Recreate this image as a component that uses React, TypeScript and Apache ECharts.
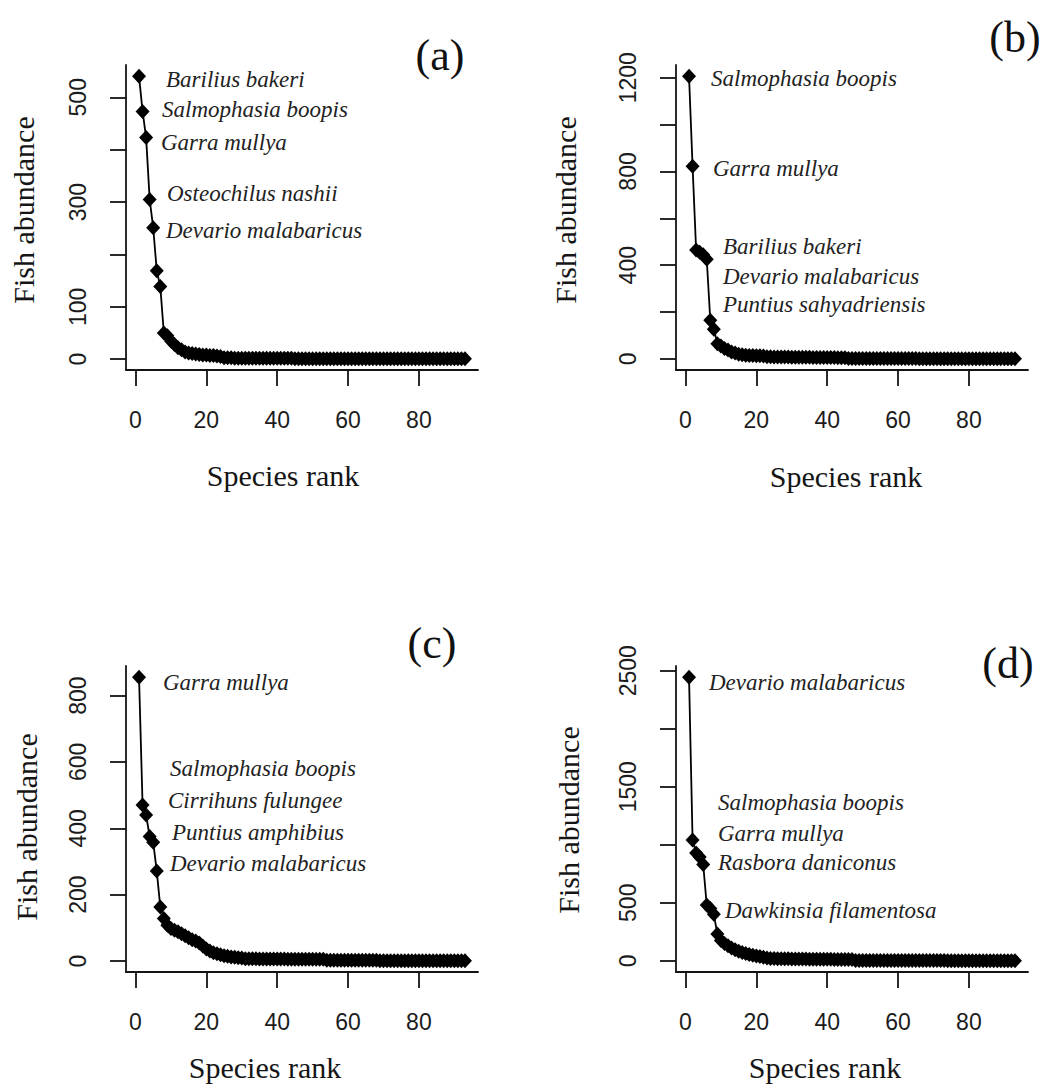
import React, { useEffect, useRef } from "react";
import * as echarts from "echarts";

// Abundance of each species, ordered by rank (rank 1 = most abundant), one array per site.
const abundanceA = [
  540, 473, 423, 305, 251, 169, 139, 50, 45, 35,
  28, 22, 18, 14, 12, 11, 10, 9, 8, 8,
  7, 7, 6, 5, 3, 3, 3, 2, 2, 2,
  2, 2, 2, 2, 2, 2, 2, 2, 2, 2,
  2, 2, 2, 2, 1, 1, 1, 1, 1, 1,
  1, 1, 1, 1, 1, 1, 1, 1, 1, 1,
  1, 1, 1, 1, 1, 1, 1, 1, 1, 1,
  1, 1, 1, 1, 1, 1, 1, 1, 1, 1,
  1, 1, 1, 1, 1, 1, 1, 1, 1, 1,
  1, 1, 1,
];

const abundanceB = [
  1206, 822, 465, 455, 445, 425, 165, 127, 65, 55,
  45, 38, 30, 25, 20, 18, 16, 15, 15, 14,
  14, 13, 9, 9, 8, 8, 8, 8, 8, 7,
  7, 7, 7, 7, 7, 6, 6, 6, 6, 6,
  6, 6, 5, 5, 5, 2, 2, 2, 2, 2,
  2, 2, 2, 2, 2, 2, 2, 2, 2, 2,
  2, 2, 2, 2, 2, 1, 1, 1, 1, 1,
  1, 1, 1, 1, 1, 1, 1, 1, 1, 1,
  1, 1, 1, 1, 1, 1, 1, 1, 1, 1,
  1, 1, 1,
];

const abundanceC = [
  855, 470, 440, 375, 358, 271, 163, 128, 108, 98,
  93, 88, 82, 76, 70, 64, 60, 54, 45, 36,
  30, 25, 22, 19, 16, 14, 12, 11, 10, 9,
  7, 7, 7, 7, 6, 6, 6, 6, 6, 6,
  6, 6, 5, 5, 5, 5, 5, 5, 5, 5,
  5, 5, 5, 2, 2, 2, 2, 2, 2, 2,
  2, 2, 2, 2, 2, 2, 2, 2, 1, 1,
  1, 1, 1, 1, 1, 1, 1, 1, 1, 1,
  1, 1, 1, 1, 1, 1, 1, 1, 1, 1,
  1, 1, 1,
];

const abundanceD = [
  2443, 1040, 930, 895, 830, 480, 450, 400, 230, 175,
  150, 130, 110, 95, 82, 72, 62, 55, 48, 42,
  36, 30, 25, 20, 19, 18, 18, 17, 17, 16,
  16, 15, 15, 15, 14, 14, 14, 13, 13, 13,
  13, 12, 12, 12, 12, 12, 12, 3, 3, 3,
  3, 3, 3, 3, 3, 3, 3, 2, 2, 2,
  2, 2, 2, 2, 2, 2, 2, 2, 2, 2,
  2, 2, 2, 1, 1, 1, 1, 1, 1, 1,
  1, 1, 1, 1, 1, 1, 1, 1, 1, 1,
  1, 1, 1,
];

// Axis ticks and the subset of tick labels printed on each axis.
const rankTicks = [0, 20, 40, 60, 80];
const yTicksA = [0, 100, 200, 300, 400, 500];
const yLabelsA = [0, 100, 300, 500];
const yTicksB = [0, 200, 400, 600, 800, 1000, 1200];
const yLabelsB = [0, 400, 800, 1200];
const yTicksC = [0, 200, 400, 600, 800];
const yLabelsC = [0, 200, 400, 600, 800];
const yTicksD = [0, 500, 1000, 1500, 2000, 2500];
const yLabelsD = [0, 500, 1500, 2500];

// Dominant species named beside the top of each curve.
const speciesA = ["Barilius bakeri", "Salmophasia boopis", "Garra mullya", "Osteochilus nashii", "Devario malabaricus"];
const speciesB = ["Salmophasia boopis", "Garra mullya", "Barilius bakeri", "Devario malabaricus", "Puntius sahyadriensis"];
const speciesC = ["Garra mullya", "Salmophasia boopis", "Cirrihuns fulungee", "Puntius amphibius", "Devario malabaricus"];
const speciesD = ["Devario malabaricus", "Salmophasia boopis", "Garra mullya", "Rasbora daniconus", "Dawkinsia filamentosa"];

const panelTags = ["(a)", "(b)", "(c)", "(d)"];
const xTitle = "Species rank";
const yTitle = "Fish abundance";

// Page layout of the four panels (pixels).
const layout = [
  {
    left: 126, top: 65, width: 352, height: 305,
    tag: [440, 55], yTitle: [23, 210], xTitle: [283, 475],
    names: [[166, 79], [162, 109], [161, 142], [167, 193], [166, 230]],
  },
  {
    left: 676, top: 65, width: 352, height: 305,
    tag: [1015, 37], yTitle: [565, 210], xTitle: [846, 476],
    names: [[711, 78], [713, 168], [723, 246], [723, 276], [723, 304]],
  },
  {
    left: 126, top: 666, width: 352, height: 306,
    tag: [432, 643], yTitle: [26, 827], xTitle: [265, 1067],
    names: [[163, 682], [170, 768], [168, 800], [172, 832], [170, 863]],
  },
  {
    left: 676, top: 666, width: 352, height: 306,
    tag: [1008, 663], yTitle: [568, 820], xTitle: [825, 1067],
    names: [[709, 682], [718, 802], [718, 833], [718, 862], [725, 910]],
  },
];

const panels = [
  { values: abundanceA, yTicks: yTicksA, yLabels: yLabelsA, species: speciesA },
  { values: abundanceB, yTicks: yTicksB, yLabels: yLabelsB, species: speciesB },
  { values: abundanceC, yTicks: yTicksC, yLabels: yLabelsC, species: speciesC },
  { values: abundanceD, yTicks: yTicksD, yLabels: yLabelsD, species: speciesD },
];

const INK = "#141414";
const SANS = '"Liberation Sans", Arial, sans-serif';
const SERIF = '"Liberation Serif", "Times New Roman", serif';

// Extend a data range by 4% on each side, like R's default axis style.
function padded(lo: number, hi: number): [number, number] {
  const d = (hi - lo) * 0.04;
  return [lo - d, hi + d];
}

const plain = (v: number) => String(v);

function buildOption() {
  const grid: any[] = [];
  const xAxis: any[] = [];
  const yAxis: any[] = [];
  const series: any[] = [];
  const graphic: any[] = [];

  panels.forEach((p, i) => {
    const L = layout[i];
    const n = p.values.length;
    const [xMin, xMax] = padded(1, n);
    const [yMin, yMax] = padded(Math.min(...p.values), Math.max(...p.values));

    grid.push({ left: L.left, top: L.top, width: L.width, height: L.height });

    xAxis.push({
      type: "value",
      gridIndex: i,
      min: xMin,
      max: xMax,
      splitLine: { show: false },
      axisLine: { show: true, onZero: false, lineStyle: { color: INK, width: 1.8 } },
      axisTick: { show: true, length: 16, customValues: rankTicks, lineStyle: { color: INK, width: 1.8 } },
      axisLabel: {
        customValues: rankTicks,
        formatter: plain,
        fontFamily: SANS,
        fontSize: 23,
        color: "#1c1c1c",
        margin: 38,
      },
    });

    yAxis.push({
      type: "value",
      gridIndex: i,
      min: yMin,
      max: yMax,
      splitLine: { show: false },
      axisLine: { show: true, onZero: false, lineStyle: { color: INK, width: 1.8 } },
      axisTick: { show: true, length: 16, customValues: p.yTicks, lineStyle: { color: INK, width: 1.8 } },
      axisLabel: {
        customValues: p.yLabels,
        formatter: plain,
        rotate: 90,
        fontFamily: SANS,
        fontSize: 23,
        color: "#1c1c1c",
        margin: 37,
      },
    });

    series.push({
      type: "line",
      xAxisIndex: i,
      yAxisIndex: i,
      data: p.values.map((v, k) => [k + 1, v]),
      symbol: "diamond",
      symbolSize: [14, 15],
      showSymbol: true,
      itemStyle: { color: "#000" },
      lineStyle: { color: "#000", width: 1.8 },
      emphasis: { disabled: true },
    });

    graphic.push({
      type: "text",
      x: L.tag[0],
      y: L.tag[1],
      style: {
        text: panelTags[i],
        fontFamily: SERIF,
        fontSize: 44,
        fill: "#111",
        textAlign: "center",
        textVerticalAlign: "middle",
      },
    });

    graphic.push({
      type: "text",
      x: L.yTitle[0],
      y: L.yTitle[1],
      rotation: Math.PI / 2,
      style: {
        text: yTitle,
        fontFamily: SERIF,
        fontSize: 30,
        fill: "#151515",
        textAlign: "center",
        textVerticalAlign: "middle",
      },
    });

    graphic.push({
      type: "text",
      x: L.xTitle[0],
      y: L.xTitle[1],
      style: {
        text: xTitle,
        fontFamily: SERIF,
        fontSize: 30,
        fill: "#151515",
        textAlign: "center",
        textVerticalAlign: "middle",
      },
    });

    p.species.forEach((name, k) => {
      graphic.push({
        type: "text",
        x: L.names[k][0],
        y: L.names[k][1],
        style: {
          text: name,
          fontFamily: SERIF,
          fontStyle: "italic",
          fontSize: 23,
          fill: "#222",
          textAlign: "left",
          textVerticalAlign: "middle",
        },
      });
    });
  });

  return {
    animation: false,
    backgroundColor: "#ffffff",
    grid,
    xAxis,
    yAxis,
    series,
    graphic,
  };
}

export default function App() {
  const ref = useRef<HTMLDivElement>(null);

  useEffect(() => {
    if (!ref.current) return;
    const chart = echarts.init(ref.current, undefined, { renderer: "svg" });
    chart.setOption(buildOption() as any);
    return () => chart.dispose();
  }, []);

  return (
    <div
      ref={ref}
      style={{ position: "absolute", left: 0, top: 0, width: 1052, height: 1090, background: "#fff" }}
    />
  );
}
